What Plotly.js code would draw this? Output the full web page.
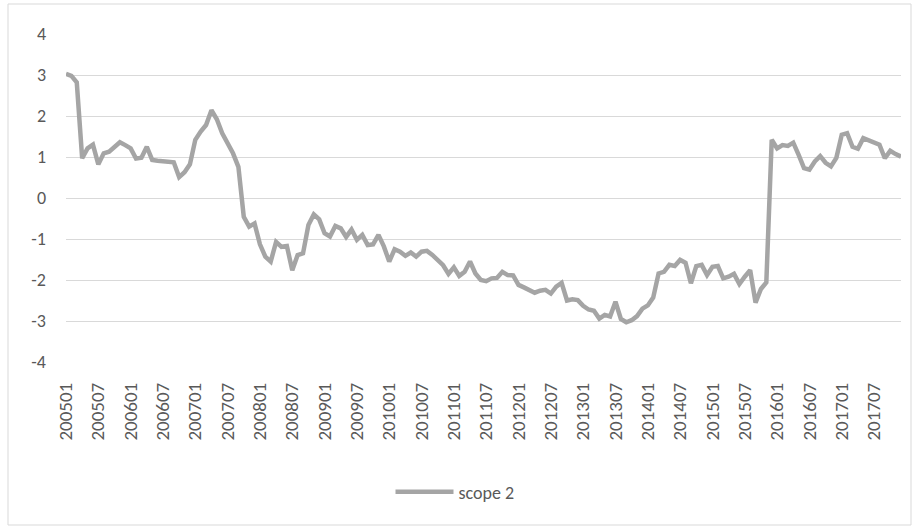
<!DOCTYPE html>
<html>
<head>
<meta charset="utf-8">
<script src="https://cdn.plot.ly/plotly-3.0.1.min.js"></script>
<style>
  html, body { margin: 0; padding: 0; background: #fff; }
  #chart { width: 914px; height: 529px; }
</style>
</head>
<body>
<div id="chart"></div>
<script>
// months 200501 .. 201712
const years = [2005, 2006, 2007, 2008, 2009, 2010, 2011, 2012, 2013, 2014, 2015, 2016, 2017];
const monthCodes = ['01', '02', '03', '04', '05', '06', '07', '08', '09', '10', '11', '12'];

const periods = [];
years.forEach(y => monthCodes.forEach(m => periods.push(y + m)));

// tick labels every 6 months
const tickLabels = periods.filter((p, i) => i % 6 === 0);

// y ticks, written with a plain hyphen like the original
const yTickVals = [-4, -3, -2, -1, 0, 1, 2, 3, 4];
const yTickText = ['-4', '-3', '-2', '-1', '0', '1', '2', '3', '4'];

// scope 2 values
const scope2 = [
  3.03, 2.98, 2.82, 0.97, 1.21, 1.30, 0.82, 1.09, 1.13, 1.24, 1.36, 1.29,
  1.21, 0.96, 0.98, 1.25, 0.93, 0.91, 0.90, 0.89, 0.87, 0.51, 0.63, 0.82,
  1.42, 1.62, 1.78, 2.14, 1.92, 1.58, 1.33, 1.09, 0.76, -0.46, -0.70, -0.62,
  -1.13, -1.43, -1.55, -1.07, -1.19, -1.17, -1.76, -1.39, -1.35, -0.66, -0.40, -0.52,
  -0.86, -0.94, -0.68, -0.74, -0.95, -0.77, -1.02, -0.90, -1.15, -1.13, -0.90, -1.18,
  -1.55, -1.25, -1.31, -1.41, -1.33, -1.43, -1.31, -1.29, -1.39, -1.51, -1.64, -1.85,
  -1.69, -1.90, -1.80, -1.55, -1.84, -2.00, -2.03, -1.96, -1.95, -1.80, -1.88, -1.89,
  -2.12, -2.18, -2.26, -2.31, -2.26, -2.24, -2.33, -2.16, -2.07, -2.50, -2.47, -2.49,
  -2.63, -2.72, -2.75, -2.94, -2.85, -2.89, -2.53, -2.95, -3.03, -2.98, -2.88, -2.70,
  -2.62, -2.43, -1.84, -1.80, -1.63, -1.66, -1.51, -1.58, -2.08, -1.66, -1.63, -1.88,
  -1.68, -1.66, -1.96, -1.92, -1.85, -2.10, -1.92, -1.76, -2.55, -2.22, -2.06, 1.42,
  1.21, 1.29, 1.27, 1.35, 1.05, 0.73, 0.69, 0.89, 1.02, 0.86, 0.77, 0.98,
  1.54, 1.58, 1.25, 1.20, 1.46, 1.41, 1.36, 1.30, 0.97, 1.15, 1.07, 1.01
];

const textColor = '#595959';
const gridColor = '#d9d9d9';
const fontFamily = 'Carlito, Calibri, Lato, sans-serif';

// plot area in pixels, used for placing the legend and the chart frame
const plotLeft = 66, plotRight = 901, plotTop = 34, plotBottom = 362;
const plotW = plotRight - plotLeft, plotH = plotBottom - plotTop;

Plotly.newPlot('chart', [{
  x: periods,
  y: scope2,
  type: 'scatter',
  mode: 'lines',
  name: 'scope 2',
  line: { color: '#a5a5a5', width: 4.5 }
}], {
  width: 914,
  height: 529,
  margin: { l: plotLeft, r: 914 - plotRight, t: plotTop, b: 529 - plotBottom },
  paper_bgcolor: '#fff',
  plot_bgcolor: '#fff',
  font: { family: fontFamily, size: 18, color: textColor },
  xaxis: {
    type: 'category',
    range: [0, periods.length - 1],
    tickmode: 'array',
    tickvals: tickLabels,
    ticktext: tickLabels,
    tickangle: -90,
    ticks: '',
    ticklabelstandoff: 16,
    showgrid: false,
    showline: false,
    zeroline: false,
    tickfont: { size: 19, color: textColor }
  },
  yaxis: {
    range: [-4, 4],
    tickmode: 'array',
    tickvals: yTickVals,
    ticktext: yTickText,
    ticks: '',
    ticklabelstandoff: 19,
    showgrid: true,
    gridcolor: gridColor,
    gridwidth: 1,
    zeroline: false,
    showline: false,
    tickfont: { size: 18, color: textColor }
  },
  showlegend: true,
  legend: {
    orientation: 'h',
    x: (455 - plotLeft) / plotW,
    xanchor: 'center',
    y: (plotBottom - 492) / plotH,
    yanchor: 'middle',
    itemwidth: 58,
    font: { size: 18, color: textColor },
    bgcolor: 'rgba(0,0,0,0)'
  },
  shapes: [{
    type: 'rect',
    xref: 'paper', yref: 'paper',
    x0: (8 - plotLeft) / plotW, x1: (911 - plotLeft) / plotW,
    y0: (plotBottom - 525) / plotH, y1: (plotBottom - 4) / plotH,
    line: { color: gridColor, width: 1 },
    fillcolor: 'rgba(0,0,0,0)',
    layer: 'below'
  }]
}, { displayModeBar: false, staticPlot: true });
</script>
</body>
</html>
